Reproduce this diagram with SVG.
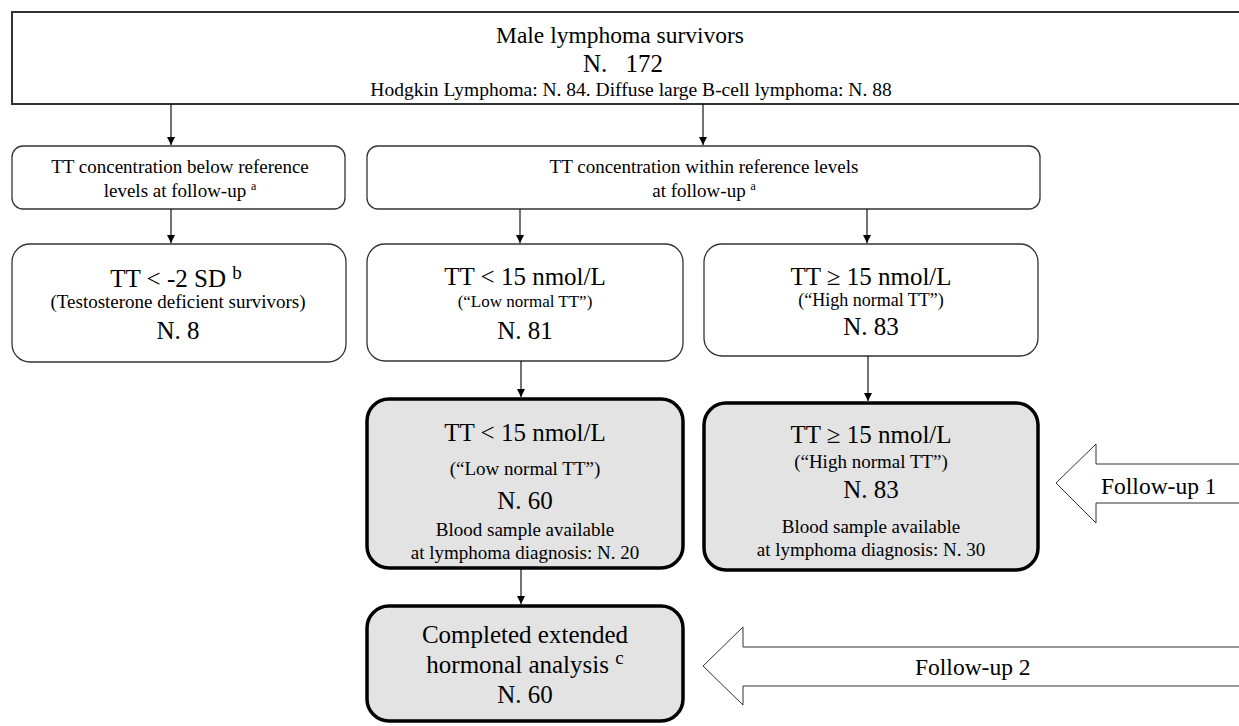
<svg xmlns="http://www.w3.org/2000/svg" width="1239" height="726" viewBox="0 0 1239 726">
<style>
text{font-family:"Liberation Serif","Times New Roman",serif;fill:#000;text-anchor:middle}
.b{font-size:25px}
.s{font-size:19px}
.t{font-size:17px}
.sup{font-size:12px}
.thin{fill:#fff;stroke:#333;stroke-width:1.3}
.thick{fill:#e3e3e3;stroke:#000;stroke-width:3.5}
.c{stroke:#000;stroke-width:1.1;fill:none}
.fu{fill:#fff;stroke:#333;stroke-width:1}
.fl{font-size:23.5px;text-anchor:start}
</style>
<defs>
<marker id="ah" viewBox="0 0 10 10" refX="10" refY="5" markerWidth="8" markerHeight="8" markerUnits="userSpaceOnUse" orient="auto">
<path d="M0,0 L10,5 L0,10 z" fill="#000"/>
</marker>
</defs>
<rect width="1239" height="726" fill="#fff"/>
<g id="top">
<rect x="12" y="12" width="1240" height="92" fill="#fff" stroke="#333" stroke-width="2"/>
<text class="b" x="620" y="43" style="font-size:23.5px">Male lymphoma survivors</text>
<text class="b" x="623" y="72" style="word-spacing:12px">N. 172</text>
<text class="s" x="631" y="96" style="font-size:19.5px">Hodgkin Lymphoma: N. 84. Diffuse large B-cell lymphoma: N. 88</text>
</g>
<g id="below">
<rect class="thin" x="12" y="146" width="333" height="63" rx="11"/>
<text class="s" x="180" y="173">TT concentration below reference</text>
<text class="s" x="180" y="197">levels at follow-up <tspan class="sup" dy="-7">a</tspan></text>
</g>
<g id="within">
<rect class="thin" x="367" y="146" width="673" height="63" rx="11"/>
<text class="s" x="704" y="173">TT concentration within reference levels</text>
<text class="s" x="704" y="197">at follow-up <tspan class="sup" dy="-7">a</tspan></text>
</g>
<g id="deficient">
<rect class="thin" x="12" y="244" width="334" height="118" rx="18"/>
<text class="b" x="176" y="287">TT &lt; -2 SD <tspan class="s" dy="-8">b</tspan></text>
<text class="s" x="178" y="308">(Testosterone deficient survivors)</text>
<text class="b" x="178" y="339">N. 8</text>
</g>
<g id="low1">
<rect class="thin" x="367" y="244" width="316" height="117" rx="18"/>
<text class="b" x="525" y="285">TT &lt; 15 nmol/L</text>
<text class="t" x="525" y="307">(“Low normal TT”)</text>
<text class="b" x="525" y="339">N. 81</text>
</g>
<g id="high1">
<rect class="thin" x="704" y="244" width="334" height="112" rx="18"/>
<text class="b" x="871" y="285">TT ≥ 15 nmol/L</text>
<text class="t" x="871" y="306" style="font-size:18px">(“High normal TT”)</text>
<text class="b" x="871" y="335">N. 83</text>
</g>
<g id="low2">
<rect class="thick" x="367" y="399" width="316" height="169" rx="22"/>
<text class="b" x="525" y="441">TT &lt; 15 nmol/L</text>
<text class="s" x="525" y="475">(“Low normal TT”)</text>
<text class="b" x="525" y="509">N. 60</text>
<text class="s" x="525" y="536">Blood sample available</text>
<text class="s" x="525" y="559">at lymphoma diagnosis: N. 20</text>
</g>
<g id="high2">
<rect class="thick" x="704" y="403" width="334" height="167" rx="22"/>
<text class="b" x="871" y="443">TT ≥ 15 nmol/L</text>
<text class="s" x="871" y="468">(“High normal TT”)</text>
<text class="b" x="871" y="498">N. 83</text>
<text class="s" x="871" y="533">Blood sample available</text>
<text class="s" x="871" y="556">at lymphoma diagnosis: N. 30</text>
</g>
<g id="extended">
<rect class="thick" x="367" y="606" width="316" height="115" rx="22"/>
<text class="b" x="525" y="643">Completed extended</text>
<text class="b" x="525" y="673">hormonal analysis <tspan class="s" dy="-9">c</tspan></text>
<text class="b" x="525" y="703">N. 60</text>
</g>
<g id="followup1">
<path class="fu" d="M1250,464 L1096,464 L1096,444 L1056,483 L1096,523 L1096,503 L1250,503"/>
<text class="fl" x="1101" y="494">Follow-up 1</text>
</g>
<g id="followup2">
<path class="fu" d="M1250,647 L743,647 L743,627 L703,666 L743,705 L743,686 L1250,686"/>
<text class="fl" x="915" y="675">Follow-up 2</text>
</g>
<g id="connectors">
<line class="c" x1="171" y1="104" x2="171" y2="145" marker-end="url(#ah)"/>
<line class="c" x1="703" y1="104" x2="703" y2="145" marker-end="url(#ah)"/>
<line class="c" x1="171" y1="209" x2="171" y2="243" marker-end="url(#ah)"/>
<line class="c" x1="520" y1="209" x2="520" y2="243" marker-end="url(#ah)"/>
<line class="c" x1="867" y1="209" x2="867" y2="243" marker-end="url(#ah)"/>
<line class="c" x1="521" y1="361" x2="521" y2="397" marker-end="url(#ah)"/>
<line class="c" x1="868" y1="356" x2="868" y2="401" marker-end="url(#ah)"/>
<line class="c" x1="521" y1="568" x2="521" y2="604" marker-end="url(#ah)"/>
</g>
</svg>
